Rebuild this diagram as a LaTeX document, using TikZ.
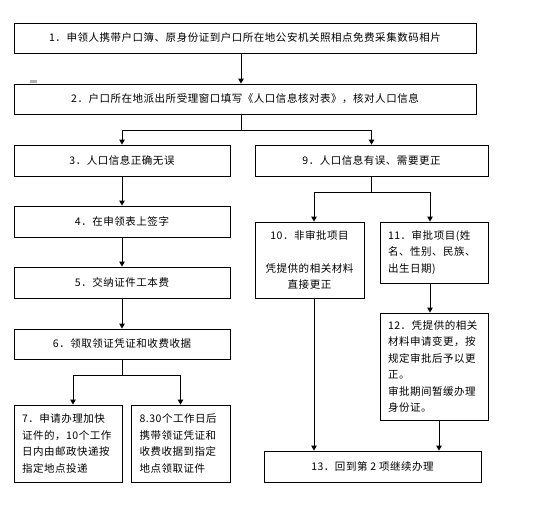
\documentclass[tikz,border=0pt]{standalone}
\usepackage{fontspec}
\setmainfont{Noto Sans CJK SC}[LetterSpace=5]
\usetikzlibrary{arrows.meta}
\begin{document}
\begin{tikzpicture}[x=1pt,y=-1pt,
  box/.style={draw, line width=0.9pt, rectangle, inner sep=0pt, font=\fontsize{10.5}{16.5}\selectfont},
  arr/.style={line width=0.9pt, -{Triangle[length=5pt,width=5.5pt]}},
  ln/.style={line width=0.9pt}]
\useasboundingbox[fill=white] (0,0) rectangle (536,507);
% boxes
\node[box, minimum width=462pt, minimum height=30pt] (b1) at (245,38) {1．申领人携带户口簿、原身份证到户口所在地公安机关照相点免费采集数码相片};
\node[box, minimum width=462pt, minimum height=30pt] (b2) at (245,99) {2．户口所在地派出所受理窗口填写《人口信息核对表》，核对人口信息};
\node[box, minimum width=216pt, minimum height=31pt] (b3) at (122,160.5) {3．人口信息正确无误};
\node[box, minimum width=216pt, minimum height=31pt] (b4) at (122,221.5) {4．在申领表上签字};
\node[box, minimum width=216pt, minimum height=31pt] (b5) at (122,282.5) {5．交纳证件工本费};
\node[box, minimum width=216pt, minimum height=30pt] (b6) at (122,344) {6．领取领证凭证和收费收据};
\node[box, minimum width=108pt, minimum height=77pt, text width=92pt, align=left] (b7) at (68,443.5) {7．申请办理加快\\证件的，10个工作\\日内由邮政快递按\\指定地点投递};
\node[box, minimum width=99pt, minimum height=77pt, text width=82pt, align=left] (b8) at (180.5,443.5) {8.30个工作日后\\携带领证凭证和\\收费收据到指定\\地点领取证件};
\node[box, minimum width=233pt, minimum height=31pt] (b9) at (371.5,160.5) {9．人口信息有误、需要更正};
\node[box, minimum width=109pt, minimum height=76pt, text width=100pt, align=center] (b10) at (309.5,260) {10．非审批项目\\[16.5pt]凭提供的相关材料\\直接更正};
\node[box, minimum width=108pt, minimum height=61pt, text width=92pt, align=left] (b11) at (434,252.5) {11．审批项目(姓\\名、性别、民族、\\出生日期)};
\node[box, minimum width=108pt, minimum height=107pt, text width=92pt, align=left] (b12) at (434,366.5) {12．凭提供的相关\\材料申请变更，按\\规定审批后予以更\\正。\\审批期间暂缓办理\\身份证。};
\node[box, minimum width=217pt, minimum height=31pt] (b13) at (372.5,466.5) {13．回到第 2 项继续办理};
% small artifact mark
\fill[gray!60] (30,80) rectangle (37,83);
% connectors
\draw[arr] ([xshift=-4pt]b1.south) -- ([xshift=-4pt]b2.north);
\coordinate (s1) at (241,130);
\draw[ln] ([xshift=-4pt]b2.south) -- (s1);
\draw[arr] (s1) -| (b3.north);
\draw[arr] (s1) -| (b9.north);
\draw[arr] (b3) -- (b4);
\draw[arr] (b4) -- (b5);
\draw[arr] (b5) -- (b6);
\coordinate (s2) at (122,375);
\draw[ln] (b6.south) -- (s2);
\draw[arr] (s2) -| ([xshift=5pt]b7.north);
\draw[arr] (s2) -| (b8.north);
\coordinate (s3) at (371.5,192);
\draw[ln] (b9.south) -- (s3);
\draw[arr] (s3) -| ([xshift=4.5pt]b10.north);
\draw[arr] (s3) -| ([xshift=-4pt]b11.north);
\draw[arr] ([xshift=-4pt]b11.south) -- ([xshift=-4pt]b12.north);
\draw[arr] ([xshift=4.5pt]b10.south) -- ([xshift=4.5pt]b10.south |- b13.north);
\draw[arr] ([xshift=5pt]b12.south) -- ([xshift=5pt]b12.south |- b13.north);
\end{tikzpicture}
\end{document}
